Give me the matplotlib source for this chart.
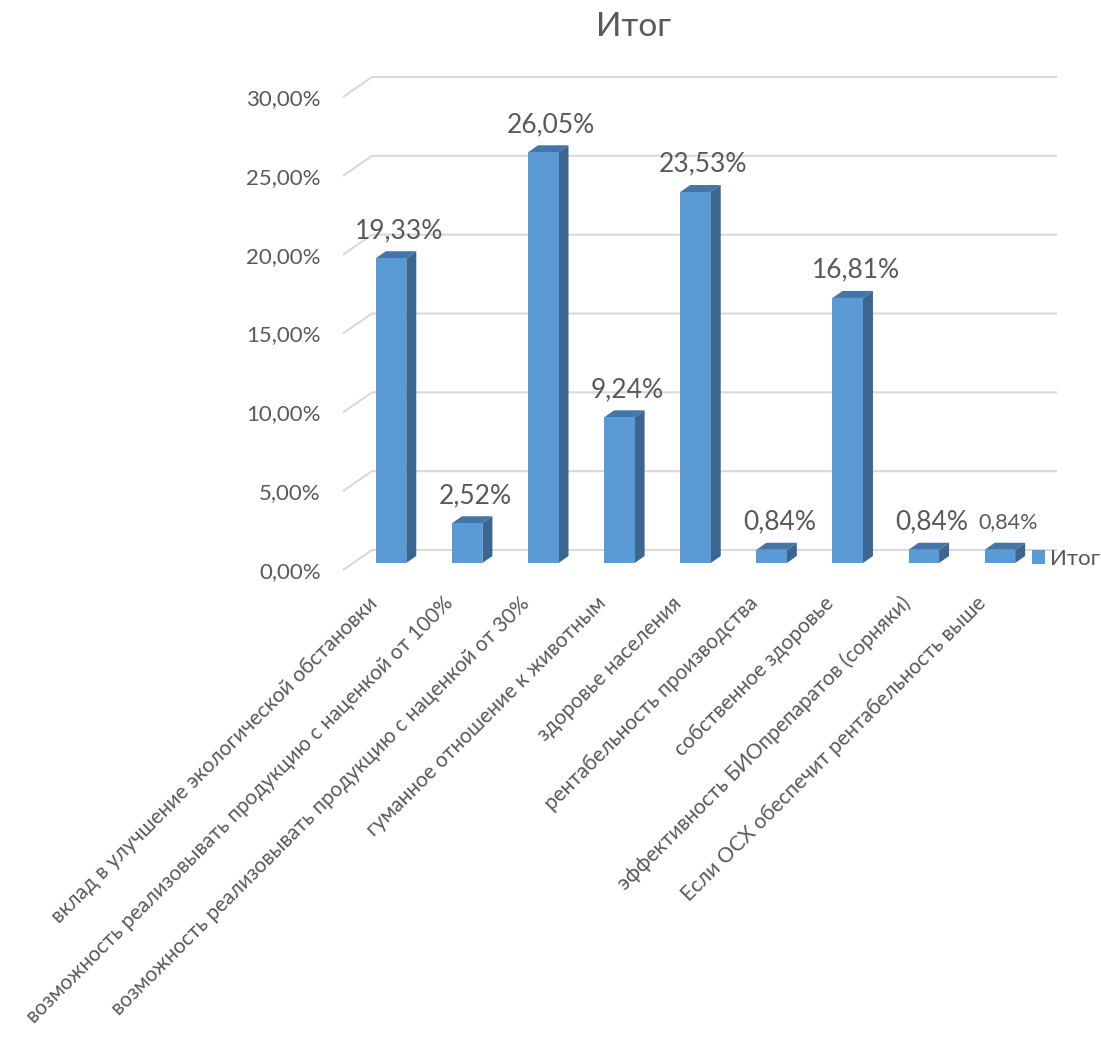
import matplotlib
matplotlib.use('Agg')
import matplotlib.pyplot as plt
from matplotlib.patches import Polygon, Patch
import matplotlib.transforms as mtransforms

# ---------------- data ----------------
categories = [
    'вклад в улучшение экологической обстановки',
    'возможность реализовывать продукцию с наценкой от 100%',
    'возможность реализовывать продукцию с наценкой от 30%',
    'гуманное отношение к животным',
    'здоровье населения',
    'рентабельность производства',
    'собственное здоровье',
    'эффективность БИОпрепаратов (сорняки)',
    'Если ОСХ обеспечит рентабельность выше',
]
values = [0.1933, 0.0252, 0.2605, 0.0924, 0.2353, 0.0084, 0.1681, 0.0084, 0.0084]
yticks = [0.0, 0.05, 0.10, 0.15, 0.20, 0.25, 0.30]
title = 'Итог'
series_name = 'Итог'

plt.rcParams['font.family'] = ['Lato', 'DejaVu Sans']

TXT = '#595959'
GRID = '#D9D9D9'
FRONT = '#5B9BD5'
SIDE = '#3A6690'
TOP = '#4475A8'

W, H = 1101, 1052
fig = plt.figure(figsize=(W / 100, H / 100), dpi=100)

# front plane pixel extent
px0, px1 = 343, 1028
py0, py1 = 570, 97
n = len(categories)
ax = fig.add_axes([px0 / W, 1 - py0 / H, (px1 - px0) / W, (py0 - py1) / H])
ax.set_xlim(0, n)
ax.set_ylim(0, 0.30)
ppx = (px1 - px0) / n          # pixels per x unit
ppy = (py0 - py1) / 0.30       # pixels per y unit

def fmt(v):
    return f'{v * 100:.2f}%'.replace('.', ',')

# back wall offset (depth)
bdx, bdy = 29 / ppx, 20 / ppy
# bar depth placement
b0x, b0y = 10 / ppx, 7 / ppy     # start of bar from front plane
bdepx, bdepy = 10 / ppx, 7 / ppy  # depth of bar
bw = 0.4

# gridlines with left-wall diagonal
for v in yticks:
    ax.plot([0, bdx, n + bdx], [v, v + bdy, v + bdy], color=GRID, lw=1.5,
            clip_on=False, zorder=1, solid_capstyle='butt')

# bars
xs = [i + 0.5 + b0x for i in range(n)]
ax.bar(xs, values, width=bw, bottom=b0y, color=FRONT, zorder=3, linewidth=0)
for xc, v in zip(xs, values):
    xl, xr = xc - bw / 2, xc + bw / 2
    yb, yt = b0y, b0y + v
    side = Polygon([(xr, yb), (xr + bdepx, yb + bdepy), (xr + bdepx, yt + bdepy), (xr, yt)],
                   closed=True, facecolor=SIDE, edgecolor='none', zorder=2, clip_on=False)
    top = Polygon([(xl, yt), (xl + bdepx, yt + bdepy), (xr + bdepx, yt + bdepy), (xr, yt)],
                  closed=True, facecolor=TOP, edgecolor='none', zorder=2, clip_on=False)
    ax.add_patch(side)
    ax.add_patch(top)

# data labels
for i, (xc, v) in enumerate(zip(xs, values)):
    small = (i == n - 1)
    ax.annotate(fmt(v), xy=(xc + bdepx / 2, b0y + v + bdepy), xytext=(2, 15),
                textcoords='offset points', ha='center', va='center',
                fontsize=15.5 if small else 19, color=TXT, zorder=5, annotation_clip=False)

# y axis labels
ax.set_yticks(yticks)
ax.set_yticklabels([fmt(v) for v in yticks], fontsize=16, color=TXT)
ax.tick_params(axis='y', length=0, pad=16)

# category labels
ax.set_xticks([])
for spine in ax.spines.values():
    spine.set_visible(False)
off = mtransforms.ScaledTranslation(-0.14, -0.23, fig.dpi_scale_trans)
for i, c in enumerate(categories):
    ax.text(i + 0.5, 0, c, transform=ax.transData + off, rotation=45,
            rotation_mode='anchor', ha='right', va='top', fontsize=15, color=TXT)

# legend
fig.legend(handles=[Patch(facecolor=FRONT)], labels=[series_name], loc='center left',
           bbox_to_anchor=(1032 / W, 1 - 559 / H), frameon=False, fontsize=16,
           handlelength=0.6, handleheight=0.6, handletextpad=0.2, labelcolor=TXT,
           borderpad=0, borderaxespad=0)

fig.text(633 / W, 1 - 27 / H, title, ha='center', va='center', fontsize=24, color=TXT)

fig.savefig('out.png', dpi=100)
